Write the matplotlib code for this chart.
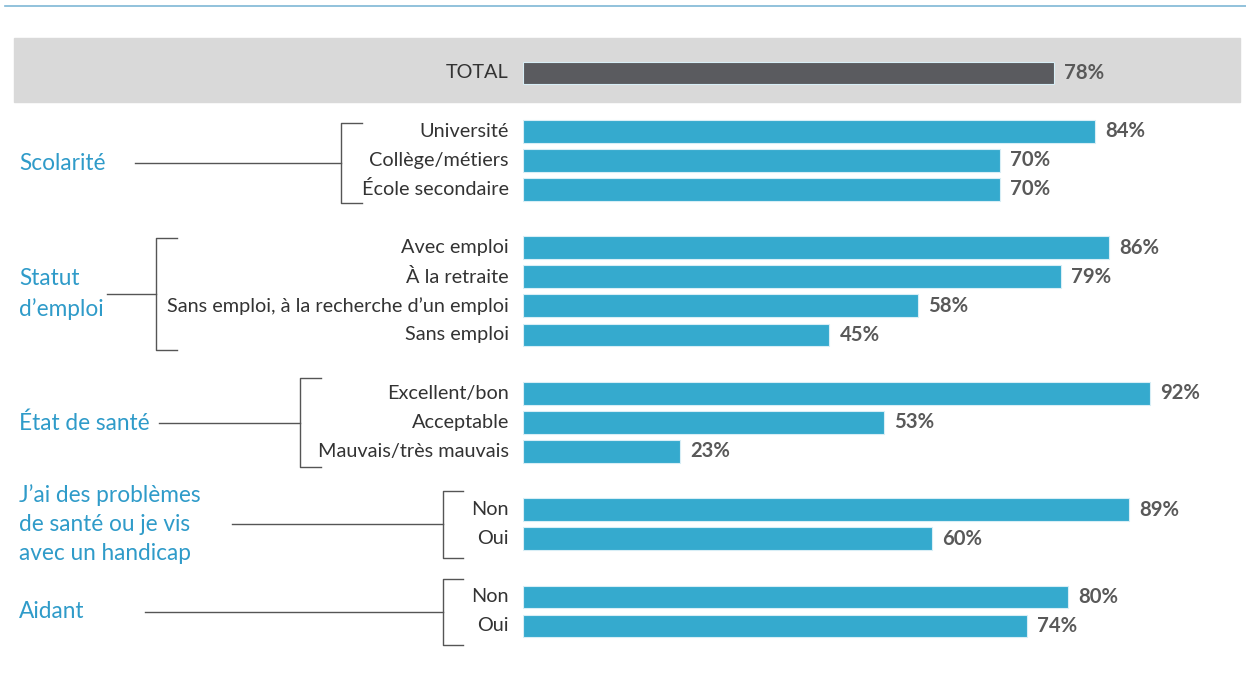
import matplotlib
matplotlib.use("Agg")
import matplotlib.pyplot as plt

# données
categories = ["TOTAL",
              "Université", "Collège/métiers", "École secondaire",
              "Avec emploi", "À la retraite", "Sans emploi, à la recherche d’un emploi", "Sans emploi",
              "Excellent/bon", "Acceptable", "Mauvais/très mauvais",
              "Non", "Oui",
              "Non", "Oui"]
valeurs = [78, 84, 70, 70, 86, 79, 58, 45, 92, 53, 23, 89, 60, 80, 74]
rangs = [0, 2, 3, 4, 6, 7, 8, 9, 11, 12, 13, 15, 16, 18, 19]

groupes = ["Scolarité", "Statut\nd’emploi", "État de santé",
           "J’ai des problèmes\nde santé ou je vis\navec un handicap", "Aidant"]

BLEU = "#35aace"
GRIS = "#5a5b5f"
TEXTE = "#333333"
VAL = "#595959"
BLEU_TXT = "#2f9bc9"
police = "Lato"

W, H = 1246, 681
fig = plt.figure(figsize=(W / 100, H / 100), dpi=100)

# fond / décor en pixels
bg = fig.add_axes([0, 0, 1, 1])
bg.set_xlim(0, W)
bg.set_ylim(H, 0)
bg.axis("off")
bg.axhline(6, xmin=5 / W, xmax=1, color="#7fb7d6", lw=1.2)
bg.add_patch(plt.Rectangle((14, 38), 1226, 64, color="#d9d9d9", zorder=0))

# accolades (x vertical, haut, bas, x tick fin, y connecteur, x début connecteur)
accolades = [(341, 123, 203, 362, 163, 135),
             (156, 238, 350, 177, 294, 107),
             (300, 378, 467, 321, 423, 159),
             (443, 491, 558, 463, 524, 232),
             (443, 579, 645, 463, 612, 145)]
for xv, yh, yb, xt, yc, xc in accolades:
    bg.plot([xt, xv, xv, xt], [yh, yh, yb, yb], color="#555555", lw=1)
    bg.plot([xc, xv], [yc, yc], color="#555555", lw=1)

pos_groupes = [163, 294, 423, 524, 612]
for g, y in zip(groupes, pos_groupes):
    bg.text(19, y, g, color=BLEU_TXT, fontsize=16.3, family=police,
            ha="left", va="center", linespacing=1.46)

# barres
ech = 6.81  # px par %
x0 = 523
ax = fig.add_axes([x0 / W, 0, 1 - x0 / W, 1])
ax.patch.set_alpha(0)
ax.set_xlim(0, (W - x0) / ech)
pas = (626 - 73) / 19
ax.set_ylim(19 + (H - 626) / pas, -73 / pas)
ax.axis("off")

couleurs = [GRIS] + [BLEU] * (len(valeurs) - 1)
ax.barh(rangs, valeurs, height=0.78, color=couleurs, edgecolor="#d8eef6", linewidth=0.8)

for r, v, c in zip(rangs, valeurs, categories):
    ax.text(v + 1.5, r, f"{v}%", va="center", ha="left", fontsize=14.6,
            fontweight="bold", color=VAL, family=police)
    ax.annotate(c, xy=(0, r), xytext=(-14, 0), textcoords="offset pixels",
                ha="right", va="center", fontsize=14.3, color=TEXTE, family=police,
                annotation_clip=False)

fig.savefig("out.png", dpi=100)
